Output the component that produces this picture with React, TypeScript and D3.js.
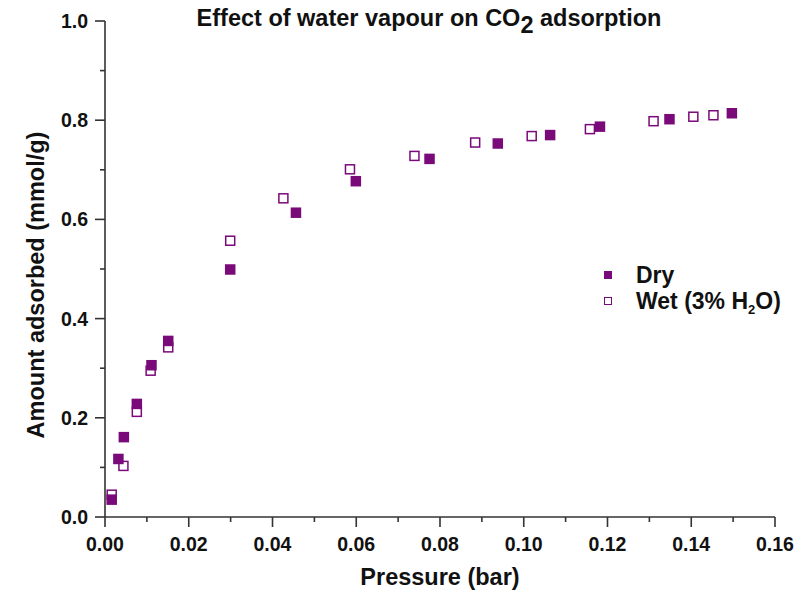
import React from "react";
import * as d3 from "d3";

const dryX = [0.0016, 0.0032, 0.0045, 0.0076, 0.0111, 0.0151, 0.0299, 0.0456, 0.0599, 0.0775, 0.0938, 0.1063, 0.1182, 0.1348, 0.1497];
const dryY = [0.035, 0.117, 0.161, 0.228, 0.306, 0.355, 0.499, 0.6135, 0.677, 0.722, 0.753, 0.770, 0.787, 0.802, 0.814];
const wetX = [0.0016, 0.0044, 0.0076, 0.0109, 0.0151, 0.0299, 0.0426, 0.0585, 0.0739, 0.0884, 0.1019, 0.1158, 0.131, 0.1405, 0.1453];
const wetY = [0.045, 0.103, 0.212, 0.295, 0.342, 0.557, 0.6425, 0.701, 0.728, 0.755, 0.768, 0.782, 0.798, 0.807, 0.810];
const xTicks = [0, 0.02, 0.04, 0.06, 0.08, 0.1, 0.12, 0.14, 0.16];
const yTicks = [0, 0.2, 0.4, 0.6, 0.8, 1.0];

const W = 796, H = 594;
const left = 105, right = 775, top = 21, bottom = 517;
const FONT = "'Liberation Sans', Arial, sans-serif";
const PURPLE = "#7a0a7a";
const AX = "#333";

export default function App() {
  const x = d3.scaleLinear().domain([0, 0.16]).range([left, right]);
  const y = d3.scaleLinear().domain([0, 1.0]).range([bottom, top]);
  const xMinor = d3.range(0.01, 0.16, 0.02);
  const yMinor = d3.range(0.1, 1.0, 0.2);
  const s = 10.5;
  return (
    <svg width={W} height={H} style={{ position: "absolute", left: 0, top: 0, background: "#fff" }} fontFamily={FONT}>
      <rect x={0} y={0} width={W} height={H} fill="#fff" />
      <text x={429} y={26} textAnchor="middle" fontWeight="bold" fontSize={23.5} fill="#111">
        Effect of water vapour on CO<tspan dy={7} fontSize={23.5}>2</tspan><tspan dy={-7}> adsorption</tspan>
      </text>
      {/* axes */}
      <line x1={left} x2={left} y1={top} y2={bottom} stroke={AX} strokeWidth={1.6} />
      <line x1={left} x2={right} y1={bottom} y2={bottom} stroke={AX} strokeWidth={1.6} />
      {xTicks.map((t) => (
        <g key={"xt" + t}>
          <line x1={x(t)} x2={x(t)} y1={bottom} y2={bottom + 10} stroke={AX} strokeWidth={1.6} />
          <text x={x(t)} y={bottom + 34} textAnchor="middle" fontWeight="bold" fontSize={19.5} fill="#111">{t.toFixed(2)}</text>
        </g>
      ))}
      {xMinor.map((t) => (
        <line key={"xm" + t} x1={x(t)} x2={x(t)} y1={bottom} y2={bottom + 5} stroke={AX} strokeWidth={1.6} />
      ))}
      {yTicks.map((t) => (
        <g key={"yt" + t}>
          <line x1={left - 10} x2={left} y1={y(t)} y2={y(t)} stroke={AX} strokeWidth={1.6} />
          <text x={88} y={y(t) + 7} textAnchor="end" fontWeight="bold" fontSize={19.5} fill="#111">{t.toFixed(1)}</text>
        </g>
      ))}
      {yMinor.map((t) => (
        <line key={"ym" + t} x1={left - 5} x2={left} y1={y(t)} y2={y(t)} stroke={AX} strokeWidth={1.6} />
      ))}
      <text x={440} y={585} textAnchor="middle" fontWeight="bold" fontSize={23.5} fill="#111">Pressure (bar)</text>
      <text transform={`translate(44,285) rotate(-90)`} textAnchor="middle" fontWeight="bold" fontSize={23.5} fill="#111">Amount adsorbed (mmol/g)</text>
      {/* data */}
      {dryX.map((v, i) => (
        <rect key={"d" + i} x={x(v) - s / 2} y={y(dryY[i]) - s / 2} width={s} height={s} fill={PURPLE} />
      ))}
      {wetX.map((v, i) => (
        <rect key={"w" + i} x={x(v) - s / 2 + 0.75} y={y(wetY[i]) - s / 2 + 0.75} width={s - 1.5} height={s - 1.5} fill="none" stroke={PURPLE} strokeWidth={1.5} />
      ))}
      {/* legend */}
      <rect x={608 - 4} y={275 - 4} width={8} height={8} fill={PURPLE} />
      <text x={636} y={283} fontWeight="bold" fontSize={23} fill="#111">Dry</text>
      <rect x={608 - 3.5} y={301 - 3.5} width={7} height={7} fill="none" stroke={PURPLE} strokeWidth={1} />
      <text x={636} y={309} fontWeight="bold" fontSize={23} fill="#111">Wet (3% H<tspan dy={5} fontSize={13}>2</tspan><tspan dy={-5}>O)</tspan></text>
    </svg>
  );
}
